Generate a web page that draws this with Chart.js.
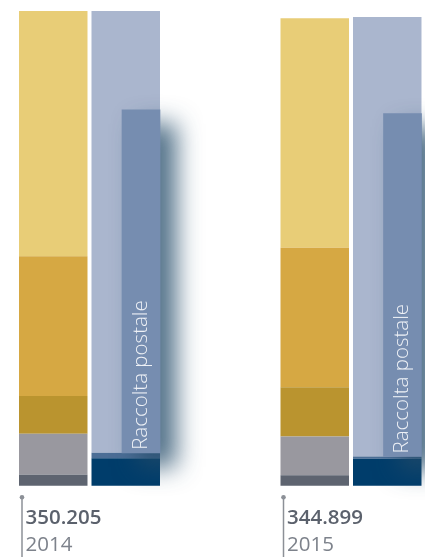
<!DOCTYPE html>
<html lang="it">
<head>
<meta charset="utf-8">
<title>Raccolta postale 2014-2015</title>
<script src="https://cdn.jsdelivr.net/npm/chart.js@4.4.1/dist/chart.umd.min.js"></script>
<style>
  html, body { margin: 0; padding: 0; background: #fff; }
  #wrap { position: relative; width: 425px; height: 557px; }
</style>
</head>
<body>
<div id="wrap"><canvas id="chart"></canvas></div>
<script>
// anni e totali (mld di euro)
const years = ['2014', '2015'];
const totals = [350.205, 344.899];

// colonna di sinistra, segmenti dal basso verso l'alto
const leftSeg1 = [8.1, 7.8];
const leftSeg2 = [30.2, 28.5];
const leftSeg3 = [28.0, 36.3];
const leftSeg4 = [103.0, 103.0];
const leftSeg5 = [180.9, 169.3];

// colonna di destra, segmenti dal basso verso l'alto
const rightSeg1 = [20.4, 19.9];
const rightSeg2 = [3.9, 1.7];
const rightSeg3 = [325.9, 324.2];

// quota "Raccolta postale" dentro la colonna di destra
const raccolta = [253.1, 252.9];
const raccoltaLabel = 'Raccolta postale';

Chart.defaults.font.family = "'Open Sans', 'Noto Sans', sans-serif";

// asse x: due gruppi (sx, dx) ai lati del tick
const MAIN_CAT = 1.109;
const MAIN_BAR = 0.9448;
// asse xr: stesso passo dell'asse x, spostato verso la metà destra di dx
const INNER_SHIFT = 0.19694;
const LABEL_OFFSET = -64;

function segment(data, color, stack) {
    return {
        data: data,
        backgroundColor: color,
        stack: stack,
        xAxisID: 'x',
        categoryPercentage: MAIN_CAT,
        barPercentage: MAIN_BAR,
        clip: false
    };
}

// barra interna: parte dalla cima dei due segmenti scuri
const raccoltaPoints = years.map((_, i) => {
    const start = rightSeg1[i] + rightSeg2[i];
    return { x: i, y: [start, start + raccolta[i]] };
});

const datasets = [
    {
        label: raccoltaLabel,
        data: raccoltaPoints,
        backgroundColor: '#768db0',
        stack: 'raccolta',
        xAxisID: 'xr',
        grouped: false,
        barThickness: 38,
        clip: false
    },
    segment(leftSeg1, '#5e6470', 'sx'),
    segment(leftSeg2, '#99989f', 'sx'),
    segment(leftSeg3, '#ba942f', 'sx'),
    segment(leftSeg4, '#d6a843', 'sx'),
    segment(leftSeg5, '#e8cd77', 'sx'),
    segment(rightSeg1, '#003d6b', 'dx'),
    segment(rightSeg2, '#4c6e96', 'dx'),
    segment(rightSeg3, '#aab6ce', 'dx')
];
const INNER = 0;

const noSidePadding = (scale) => {
    scale.paddingLeft = 0;
    scale.paddingRight = 0;
};

const decorPlugin = {
    id: 'decor',
    beforeDatasetDraw(chart, args) {
        // la barra interna viene disegnata dopo, con l'ombra
        if (args.index === INNER) return false;
    },
    afterDatasetsDraw(chart) {
        const ctx = chart.ctx;
        const meta = chart.getDatasetMeta(INNER);

        ctx.save();
        ctx.shadowColor = 'rgba(35, 75, 105, 0.8)';
        ctx.shadowBlur = 24;
        ctx.shadowOffsetX = 16;
        ctx.shadowOffsetY = 14;
        meta.controller.draw();
        ctx.restore();

        ctx.save();
        ctx.fillStyle = '#eef1f6';
        ctx.font = "300 20.5px 'Open Sans'";
        ctx.textAlign = 'left';
        ctx.textBaseline = 'middle';
        meta.data.forEach(bar => {
            ctx.save();
            ctx.translate(bar.x, bar.base - 3);
            ctx.rotate(-Math.PI / 2);
            ctx.fillText(chart.data.datasets[INNER].label, 0, 0);
            ctx.restore();
        });
        ctx.restore();
    },
    afterDraw(chart) {
        // piccolo indicatore verticale accanto alle etichette
        const ctx = chart.ctx;
        const sx = chart.scales.x;
        const off = sx.options.ticks.labelOffset;
        ctx.save();
        ctx.strokeStyle = '#8c9097';
        ctx.fillStyle = '#8c9097';
        ctx.lineWidth = 1.5;
        sx.ticks.forEach((t, i) => {
            const px = sx.getPixelForTick(i) + off - 3.5;
            const top = sx.top + 11.5;
            ctx.beginPath();
            ctx.moveTo(px, top);
            ctx.lineTo(px, chart.height);
            ctx.stroke();
            ctx.beginPath();
            ctx.arc(px, top, 2.3, 0, Math.PI * 2);
            ctx.fill();
        });
        ctx.restore();
    }
};

new Chart(document.getElementById('chart').getContext('2d'), {
    type: 'bar',
    data: { labels: years, datasets: datasets },
    options: {
        responsive: true,
        maintainAspectRatio: false,
        animation: false,
        layout: { padding: { left: 89.5, right: 74, top: 11, bottom: 0 } },
        plugins: {
            legend: { display: false },
            tooltip: { enabled: false }
        },
        scales: {
            x: {
                type: 'category',
                offset: false,
                stacked: true,
                weight: 0,
                grid: { display: false, drawTicks: true, tickLength: 20 },
                border: { display: false },
                ticks: {
                    align: 'start',
                    labelOffset: LABEL_OFFSET,
                    padding: 0,
                    maxRotation: 0,
                    autoSkip: false,
                    color: '#5b616c',
                    font: { size: 20.5, weight: '600' },
                    callback: (v, i) => totals[i].toFixed(3)
                },
                afterFit: noSidePadding
            },
            x2: {
                type: 'category',
                position: 'bottom',
                offset: false,
                weight: 1,
                grid: { display: false, drawTicks: true, tickLength: 2 },
                border: { display: false },
                ticks: {
                    align: 'start',
                    labelOffset: LABEL_OFFSET,
                    padding: 0,
                    maxRotation: 0,
                    autoSkip: false,
                    color: '#7d828b',
                    font: { size: 20.5 },
                    callback: (v, i) => years[i]
                },
                afterFit: noSidePadding
            },
            xr: {
                type: 'linear',
                offset: false,
                display: false,
                min: -INNER_SHIFT,
                max: years.length - 1 - INNER_SHIFT
            },
            y: {
                min: 0,
                max: Math.max(...totals),
                stacked: true,
                display: false
            }
        }
    },
    plugins: [decorPlugin]
});
</script>
</body>
</html>
